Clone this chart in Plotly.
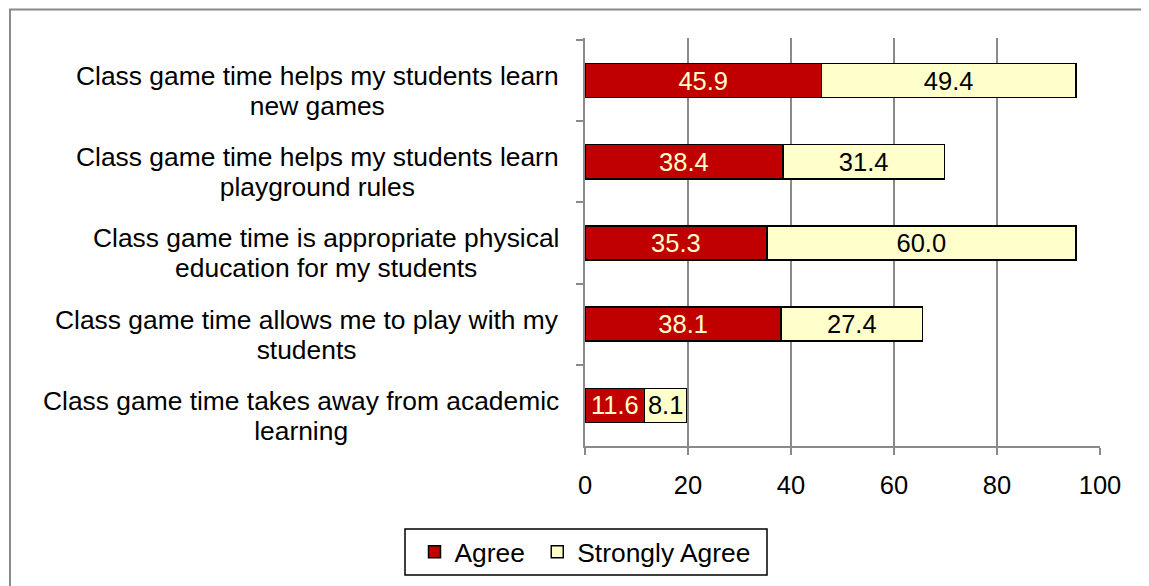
import plotly.graph_objects as go

category_lines = [
    ("Class game time helps my students learn", "new games"),
    ("Class game time helps my students learn", "playground rules"),
    ("Class game time is appropriate physical", "education for my students"),
    ("Class game time allows me to play with my", "students"),
    ("Class game time takes away from academic", "learning"),
]
cat_keys = ["c1", "c2", "c3", "c4", "c5"]
agree = [45.9, 38.4, 35.3, 38.1, 11.6]
strongly_agree = [49.4, 31.4, 60.0, 27.4, 8.1]
x_ticks = [0, 20, 40, 60, 80, 100]

FONT = "Liberation Sans, Arial, sans-serif"
FS = 25.5
CAT_FS = 26.4
LEG_FS = 26.4
GRAY = "#8a8a8a"

fig = go.Figure()
fig.add_trace(go.Bar(
    y=cat_keys, x=agree, orientation="h", name="Agree\u00a0",
    marker=dict(color="#C00000", line=dict(color="black", width=1.5)),
    texttemplate="%{x:.1f}", textposition="inside", insidetextanchor="middle",
    textangle=0, constraintext="none",
    textfont=dict(family=FONT, size=FS, color="#FFFFCC"),
))
fig.add_trace(go.Bar(
    y=cat_keys, x=strongly_agree, orientation="h", name="Strongly Agree",
    marker=dict(color="#FFFFCC", line=dict(color="black", width=1.5)),
    texttemplate="%{x:.1f}", textposition="inside", insidetextanchor="middle",
    textangle=0, constraintext="none",
    textfont=dict(family=FONT, size=FS, color="black"),
))

for key, (l1, l2) in zip(cat_keys, category_lines):
    txt = (f'<span style="font-size:{CAT_FS}px">{l1}</span><br>'
           f'<span style="font-size:{CAT_FS}px">{l2}</span>')
    fig.add_annotation(
        x=0, xref="paper", y=key, yref="y", text=txt, showarrow=False,
        xanchor="right", yanchor="middle", align="center", xshift=-24, yshift=-10.5,
        font=dict(family=FONT, size=23.1, color="black"),
    )

# outer chart border (left and top visible)
fig.add_shape(type="rect", xref="paper", yref="paper",
              x0=(10 - 585) / 515, x1=(1175 - 585) / 515,
              y0=(446 - 620) / 408, y1=(446 - 9.5) / 408,
              line=dict(color=GRAY, width=2), fillcolor="rgba(0,0,0,0)", layer="below")
# legend frame
fig.add_shape(type="rect", xref="paper", yref="paper",
              x0=(405 - 585) / 515, x1=(767 - 585) / 515,
              y0=(446 - 575) / 408, y1=(446 - 529) / 408,
              line=dict(color="black", width=1.5), fillcolor="rgba(0,0,0,0)", layer="above")

fig.update_layout(
    barmode="stack", bargap=0.58,
    width=1149, height=586,
    margin=dict(l=577, r=57, t=30, b=148),
    paper_bgcolor="white", plot_bgcolor="white",
    font=dict(family=FONT, size=FS, color="black"),
    showlegend=True,
    legend=dict(
        orientation="h", xref="container", yref="container",
        x=577 / 1149, xanchor="center", y=1 - 544 / 586, yanchor="middle",
        borderwidth=0, bgcolor="rgba(0,0,0,0)",
        font=dict(family=FONT, size=LEG_FS, color="black"),
        traceorder="normal", itemwidth=30,
    ),
    xaxis=dict(
        range=[0, 100], tickvals=x_ticks, showgrid=True, gridcolor=GRAY, gridwidth=2,
        showline=True, linecolor=GRAY, linewidth=2,
        ticks="outside", ticklen=7, tickwidth=2, tickcolor=GRAY,
        ticklabelstandoff=8,
        zeroline=False, tickfont=dict(family=FONT, size=FS, color="black"),
    ),
    yaxis=dict(
        categoryorder="array", categoryarray=cat_keys, autorange="reversed",
        showticklabels=False, showgrid=False, zeroline=False,
        showline=True, linecolor=GRAY, linewidth=2,
        ticks="outside", ticklen=7, tickwidth=2, tickcolor=GRAY, tickson="boundaries",
    ),
)

fig.write_html("out.html")
